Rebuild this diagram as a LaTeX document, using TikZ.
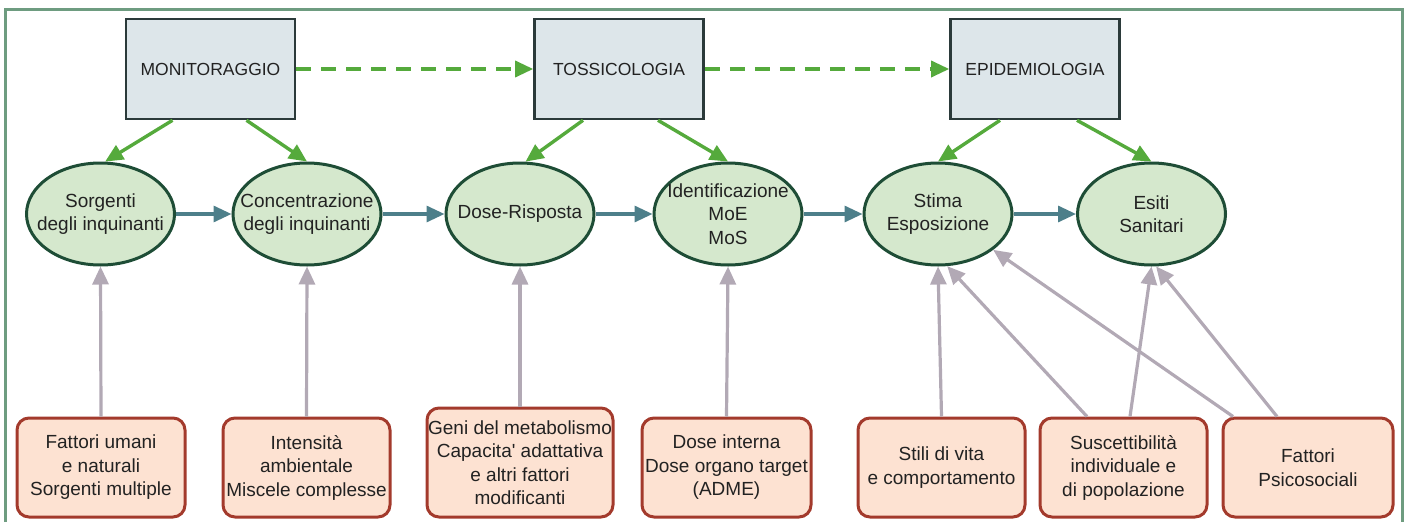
\documentclass[tikz,border=0pt]{standalone}
\usepackage{fontspec}
\setmainfont{Liberation Sans}
\usetikzlibrary{arrows.meta,shapes.geometric}
\definecolor{framec}{HTML}{6E9C80}
\definecolor{boxfill}{HTML}{DDE6EA}
\definecolor{boxline}{HTML}{2B3A3A}
\definecolor{ellfill}{HTML}{D5E8CD}
\definecolor{ellline}{HTML}{1E4D36}
\definecolor{facfill}{HTML}{FDE2D2}
\definecolor{facline}{HTML}{A33A2C}
\definecolor{garr}{HTML}{55AA3C}
\definecolor{barr}{HTML}{4D7F8A}
\definecolor{parr}{HTML}{B2A9B5}
\definecolor{txt}{HTML}{222222}
\begin{document}
\begin{tikzpicture}[x=1pt,y=-1pt,
  topbox/.style={draw=boxline, fill=boxfill, line width=2.6pt, minimum width=169pt, minimum height=100pt, inner sep=0pt, font=\fontsize{17.5}{21}\selectfont, text=txt},
  ell/.style={ellipse, draw=ellline, fill=ellfill, line width=3pt, minimum width=148pt, minimum height=102pt, inner sep=-40pt, align=center, font=\fontsize{19}{23.5}\selectfont, text=txt},
  factor/.style={draw=facline, fill=facfill, line width=3pt, rounded corners=12pt, minimum height=99pt, inner sep=0pt, align=center, font=\fontsize{19}{23.5}\selectfont, text=txt},
  tip/.style={-{Triangle[length=18pt,width=16pt]}},
  garrow/.style={draw=garr, line width=3.4pt, tip},
  dasharrow/.style={garrow, dash pattern=on 15pt off 10pt},
  barrow/.style={draw=barr, line width=3.2pt, tip},
  parrow/.style={draw=parr, line width=3.2pt, tip}
]
\useasboundingbox (0,0) rectangle (1407,522);
\draw[framec, line width=3pt] (5,522) -- (5,9) -- (1402,9) -- (1402,522);

% top boxes
\node[topbox] (mon) at (210.5,69) {MONITORAGGIO};
\node[topbox] (tox) at (619,69) {TOSSICOLOGIA};
\node[topbox] (epi) at (1035,69) {EPIDEMIOLOGIA};

% ellipses
\node[ell] (sorg) at (100.5,214) {Sorgenti\\degli inquinanti};
\node[ell] (conc) at (307,214) {Concentrazione\\degli inquinanti};
\node[ell] (dose) at (520,214) {Dose-Risposta};
\node[ell] (iden) at (728,214) {Identificazione\\MoE\\MoS};
\node[ell] (stima) at (938,214) {Stima\\Esposizione};
\node[ell] (esiti) at (1151.5,214) {Esiti\\Sanitari};

% factor boxes
\node[factor, minimum width=168pt] (f1) at (101,467.5) {Fattori umani\\e naturali\\Sorgenti multiple};
\node[factor, minimum width=167pt] (f2) at (306.5,467.5) {Intensità\\ambientale\\Miscele complesse};
\node[factor, minimum width=186pt, minimum height=109pt] (f3) at (520,462.5) {Geni del metabolismo\\Capacita\textquotesingle{} adattativa\\e altri fattori\\modificanti};
\node[factor, minimum width=169pt] (f4) at (726.5,467.5) {Dose interna\\Dose organo target\\(ADME)};
\node[factor, minimum width=167pt] (f5) at (941.5,467.5) {Stili di vita\\e comportamento};
\node[factor, minimum width=167pt] (f6) at (1123.5,467.5) {Suscettibilità\\individuale e\\di popolazione};
\node[factor, minimum width=170pt] (f7) at (1308,467.5) {Fattori\\Psicosociali};

% dashed arrows
\draw[dasharrow] (mon.east) -- (tox.west);
\draw[dasharrow] (tox.east) -- (epi.west);

% green arrows
\draw[garrow] ([xshift=-38pt]mon.south) -- (sorg.85);
\draw[garrow] ([xshift=36pt]mon.south) -- (conc.north);
\draw[garrow] ([xshift=-36pt]tox.south) -- (dose.84);
\draw[garrow] ([xshift=39pt]tox.south) -- (iden.north);
\draw[garrow] ([xshift=-35pt]epi.south) -- (stima.north);
\draw[garrow] ([xshift=42pt]epi.south) -- (esiti.north);

% blue arrows
\draw[barrow] (sorg.east) -- (conc.west);
\draw[barrow] (conc.east) -- (dose.west);
\draw[barrow] (dose.east) -- (iden.west);
\draw[barrow] (iden.east) -- (stima.west);
\draw[barrow] (stima.east) -- (esiti.west);

% gray arrows
\draw[parrow] (f1.north) -- (sorg.south);
\draw[parrow] (f2.north) -- (conc.south);
\draw[parrow] (f3.north) -- (dose.south);
\draw[parrow] (f4.north) -- (iden.south);
\draw[parrow] (f5.north) -- (stima.south);
\draw[parrow] ([xshift=-36.5pt]f6.north) -- (stima.-80);
\draw[parrow] ([xshift=6.5pt]f6.north) -- (esiti.south);
\draw[parrow] ([xshift=-75pt]f7.north) -- (stima.-33);
\draw[parrow] ([xshift=-31pt]f7.north) -- (esiti.-85);
\end{tikzpicture}
\end{document}
